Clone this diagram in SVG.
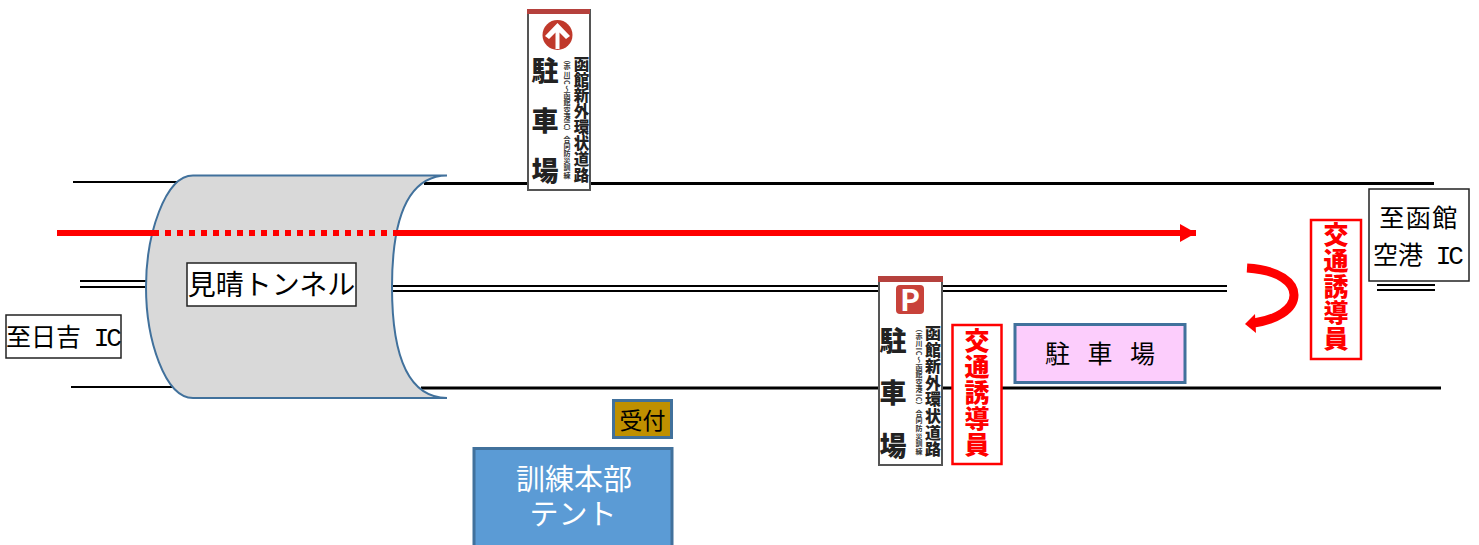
<svg xmlns="http://www.w3.org/2000/svg" width="1479" height="545" viewBox="0 0 1479 545">
<style>
text{font-family:"Noto Sans CJK JP","Noto Sans",sans-serif;fill:#000}
.c{text-anchor:middle}
.ic{font-family:"Liberation Mono","Noto Sans CJK JP",monospace;font-size:26px;letter-spacing:-3px}
.road{stroke:#000;fill:none}
.box{fill:#fff;stroke:#222;stroke-width:1.5}
.guide{fill:#fff;stroke:#f00;stroke-width:2.5}
.gt{font-size:25px;font-weight:900;fill:#f00;writing-mode:vertical-rl;text-orientation:upright;letter-spacing:1px}
.sign{fill:#fff;stroke:#555;stroke-width:2}
.band{fill:#b5413d}
.m{font-size:15.5px;font-weight:900;fill:#222;writing-mode:vertical-rl;text-orientation:upright;letter-spacing:.4px}
.s{font-size:7px;font-weight:700;fill:#333;writing-mode:vertical-rl;text-orientation:mixed;letter-spacing:.2px}
.b{font-size:27px;font-weight:900;fill:#222;writing-mode:vertical-rl;text-orientation:upright;letter-spacing:23px}
</style>
<defs>
<marker id="head" markerUnits="userSpaceOnUse" markerWidth="16" markerHeight="18" refX="16" refY="9" orient="auto"><path d="M0,0L16,9L0,18Z" fill="#f00"/></marker>
</defs>
<g id="connectors">
<path class="road" stroke-width="2" d="M73,182H180M71,387H172M80,281H146M80,287H146"/>
<path class="road" stroke-width="3" d="M424,183.500H1434M421,388H1441"/>
<path class="road" stroke-width="2" d="M392,286H1227M392,291H1227M1377,285H1435M1377,290H1435"/>
</g>
<g id="tunnel">
<path d="M193,175.500H447C405,176 392,225 392,287C392,349 405,397.500 447,398H193C165,398 146,340 146,287C146,235 165,175.500 193,175.500Z" fill="#d9d9d9" stroke="#41719c" stroke-width="2"/>
<rect class="box" x="187" y="263" width="169" height="43"/>
<text class="c" x="271.500" y="295" font-size="28">見晴トンネル</text>
</g>
<g id="route">
<path d="M57,233H153" stroke="#f00" stroke-width="6" fill="none"/>
<path d="M153,233H393" stroke="#f00" stroke-width="6" stroke-dasharray="6 6" fill="none"/>
<path d="M393,233H1196" stroke="#f00" stroke-width="6" fill="none" marker-end="url(#head)"/>
</g>
<g id="uturn">
<path d="M1247,268C1280,270 1294,283 1294,295C1294,310 1275,320 1254,323" stroke="#f00" stroke-width="9" fill="none"/>
<path d="M1245,324L1255,314L1256,333Z" fill="#f00"/>
</g>
<g id="to-hiyoshi">
<rect class="box" x="6" y="315" width="115" height="43"/>
<text class="c" x="62.500" y="346" font-size="25">至日吉<tspan class="ic"> IC</tspan></text>
</g>
<g id="to-hakodate">
<rect class="box" x="1369" y="189" width="100" height="92"/>
<text class="c" x="1419" y="227" font-size="25" letter-spacing="1.500">至函館</text>
<text class="c" x="1417" y="264" font-size="25">空港<tspan class="ic"> IC</tspan></text>
</g>
<g id="sign-up">
<rect class="sign" x="528" y="10" width="62" height="180"/>
<rect class="band" x="527" y="9" width="63" height="5"/>
<circle cx="557.500" cy="35" r="15" fill="#c0392b"/>
<path d="M557.500,23L570,36L566,39L559.500,32.500V49H555.500V32.500L549,39L545,36Z" fill="#fff"/>
<text class="m" x="581.500" y="56">函館新外環状道路</text>
<text class="s" x="567" y="56">（赤川IC～函館空港IC）合同防災訓練</text>
<text class="b" x="545" y="57">駐車場</text>
</g>
<g id="sign-p">
<rect class="sign" x="879" y="278" width="63" height="187"/>
<rect class="band" x="878" y="276" width="65" height="6"/>
<rect x="896" y="285" width="28" height="29" rx="4" fill="#c8423a"/>
<text class="c" x="910" y="311" font-size="30" font-weight="700" style="fill:#fff">P</text>
<text class="m" x="933" y="325" style="font-size:16px;letter-spacing:.6px">函館新外環状道路</text>
<text class="s" x="919" y="325" style="letter-spacing:.6px">（赤川IC～函館空港IC）合同防災訓練</text>
<text class="b" x="893" y="327" style="letter-spacing:25.500px">駐車場</text>
</g>
<g id="guide-1">
<rect class="guide" x="952.500" y="325" width="49" height="139"/>
<text class="gt" x="977" y="328">交通誘導員</text>
</g>
<g id="guide-2">
<rect class="guide" x="1311" y="220" width="50" height="139"/>
<text class="gt" x="1336" y="222">交通誘導員</text>
</g>
<g id="parking">
<rect x="1015" y="324.500" width="170" height="58" fill="#fccdfc" stroke="#41719c" stroke-width="3"/>
<text class="c" x="1100" y="363" font-size="25" word-spacing="12">駐 車 場</text>
</g>
<g id="reception">
<rect x="613.500" y="400.500" width="58" height="37" fill="#bf9000" stroke="#41719c" stroke-width="3"/>
<text class="c" x="642.500" y="429" font-size="23">受付</text>
</g>
<g id="hq">
<rect x="474" y="448.500" width="198" height="110" fill="#5b9bd5" stroke="#41719c" stroke-width="3"/>
<text class="c" font-size="29" style="fill:#fff"><tspan x="574" y="490">訓練本部</tspan><tspan x="573" y="525">テント</tspan></text>
</g>
</svg>
